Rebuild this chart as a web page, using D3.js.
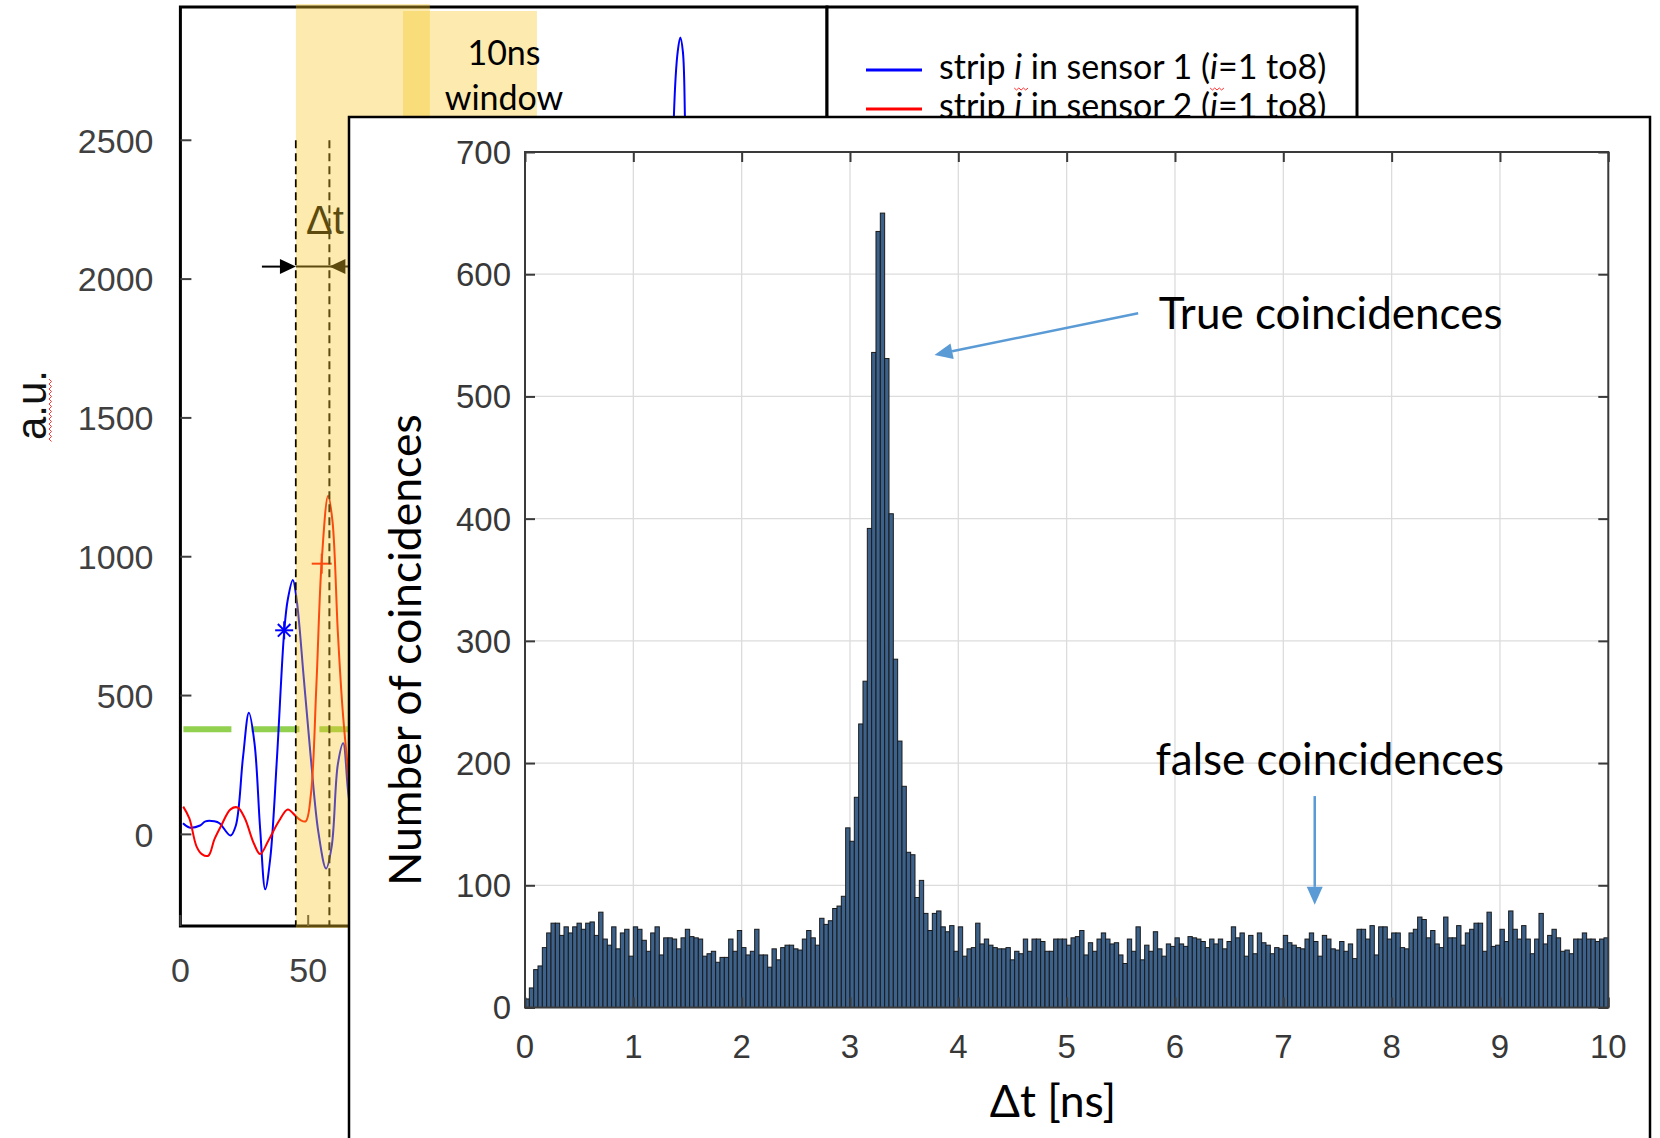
<!DOCTYPE html>
<html><head><meta charset="utf-8">
<script src="https://cdn.jsdelivr.net/npm/d3@7"></script>
<style>
html,body{margin:0;padding:0;background:#fff;}
svg{display:block;}
</style></head>
<body>
<svg id="fig" width="1660" height="1138"></svg>
<script>
// ---- Histogram of coincidence time differences (0.04 ns bins, 0..10 ns) ----
const binWidthNs = 0.04;
const countsA = [7,16,31,34,49,61,69,69,59,66,61,66,69,64,69,70,59,78,56,51,66,48,61,64,42,66,64,55,46,61,66,43,57,57,56,48,57,64,58,57,56,42,44,46,37,41,41,56,46,63,49,43,46,64,43,43,33,48,39,49,51,51,48];
const countsB = [47,56,63,57,51,73,68,71,81,83,91,147,136,172,232,267,392,536,635,650,531,404,285,218,181,127,125,90,104,77,63,77,79];
const countsC = [66,62,67,46,66,42,48,49,69,52,56,51,49,48,48,49,39,46,44,56,46,56,56,54,46,46,56,56,56,51,57,58,63,43,53,46,56,61,56,52,53,43,36,56,46,66,39,51,46,62,48,42,52,50,57,52,50,58,57,56,54,49,56,52];
const countsD = [56,48,54,66,57,61,42,59,44,61,53,51,44,49,48,59,53,51,49,48,56,61,54,42,59,56,48,47,54,46,52,40,64,64,56,67,43,66,66,56,61,61,49,48,61,64,74];
const countsE = [72,57,63,52,49,74,57,57,67,51,61,64,69,69,46,78,50,51,64,54,79,64,56,67,56,44,56,77,52,59,64,57,46,47,44,56,56,61,56,56,54,56,57];
const counts = countsA.concat(countsB, countsC, countsD, countsE);
const histXTicks = [0,1,2,3,4,5,6,7,8,9,10];
const histYTicks = [0,100,200,300,400,500,600,700];

// ---- Waveform panel behind the histogram (time in samples, amplitude a.u.) ----
const sensor1T = [1,3.5,7.7,9.8,13.3,15.3,19.6,21.7,24.5,26.8,29,31.2,33.2,35.2,37.8,40.6,42,44,45.5,48.3,51,54,57,59.2,61.6,63.7,65.7,68,72,120,185,192,193.1,194.6,195.6,196.6,197.4,198.5,205];
const sensor1V = [40,25,32,47,47,40,-4,32,278,438,328,20,-198,-83,278,729,845,916,845,560,278,7,-123,-43,252,328,148,20,-40,30,60,1500,2589,2820,2870,2820,2589,1500,60];
const sensor2T = [1.1,3.5,6.3,8.4,10.9,13.3,16,19.6,22.4,25.2,28.7,31.2,34.3,38.5,42,45.2,46.9,49,51.1,53.2,55.3,57.8,59.5,61.6,63.4,65.1,67,70,110];
const sensor2V = [100,58,-43,-71,-77,-18,32,90,97,58,-32,-71,-25,47,90,65,52,47,148,535,986,1220,1129,729,458,278,100,0,20];
const sensor1Mark = [40.6, 735];
const sensor2Mark = [55.3, 975];
const thresholdLevel = 379;
const waveXTicks = [0, 50];
const waveYTicks = [0, 500, 1000, 1500, 2000, 2500];
const crossingT = [45.2, 58.3];
const bandA = [45.2, 97.6];
const bandB = [87.1, 139.5];
const windowLabel = ["10ns", "window"];

const svg = d3.select("#fig");
svg.append("rect").attr("width", 1660).attr("height", 1138).attr("fill", "#fff");

const helv = "'Liberation Sans', Arial, sans-serif";
const cal = "Lato, 'Open Sans', sans-serif";

// ================= waveform panel =================
const xW = d3.scaleLinear().domain([0, 253]).range([180.4, 827]);
const yW = d3.scaleLinear().domain([-330, 2980]).range([926, 7]);
const wave = svg.append("g");

svg.append("defs").append("clipPath").attr("id", "waveClip")
  .append("rect").attr("x", xW(0)).attr("y", yW(2980)).attr("width", xW(253) - xW(0)).attr("height", yW(-330) - yW(2980));

// frame and legend box
wave.append("rect").attr("x", xW(0)).attr("y", yW(2980)).attr("width", xW(253) - xW(0)).attr("height", yW(-330) - yW(2980))
  .attr("fill", "none").attr("stroke", "#000").attr("stroke-width", 3);
wave.append("rect").attr("x", xW(253)).attr("y", yW(2980)).attr("width", 530).attr("height", 200)
  .attr("fill", "#fff").attr("stroke", "#000").attr("stroke-width", 3);

// ticks and labels
waveYTicks.forEach(v => {
  wave.append("line").attr("x1", xW(0)).attr("x2", xW(0) + 11).attr("y1", yW(v)).attr("y2", yW(v))
    .attr("stroke", "#404040").attr("stroke-width", 2);
  wave.append("text").attr("x", 153.5).attr("y", yW(v)).attr("dy", "0.36em").attr("text-anchor", "end")
    .attr("font-family", helv).attr("font-size", 34).attr("fill", "#404040").text(v);
});
waveXTicks.forEach(t => {
  wave.append("line").attr("x1", xW(t)).attr("x2", xW(t)).attr("y1", yW(-330)).attr("y2", yW(-330) - 11)
    .attr("stroke", "#404040").attr("stroke-width", 2);
  wave.append("text").attr("x", xW(t)).attr("y", 982).attr("text-anchor", "middle")
    .attr("font-family", helv).attr("font-size", 34).attr("fill", "#404040").text(t);
});
// y axis title with spell-check squiggle
wave.append("text").attr("transform", "translate(46,405) rotate(-90)").attr("text-anchor", "middle")
  .attr("font-family", helv).attr("font-size", 42).attr("fill", "#111").text("a.u.");
(function () {
  let d = "M49,379";
  for (let y = 379, k = 0; y < 441; y += 2.5, k++) d += " L" + (k % 2 ? 49 : 51.5) + "," + (y + 2.5);
  wave.append("path").attr("d", d).attr("fill", "none").attr("stroke", "#ff3030").attr("stroke-width", 1);
})();

const plotW = wave.append("g").attr("clip-path", "url(#waveClip)");
const lineW = d3.line().x(d => xW(d[0])).y(d => yW(d[1])).curve(d3.curveCatmullRom.alpha(0.5));

// threshold
plotW.append("line").attr("x1", xW(0) + 3).attr("x2", xW(253)).attr("y1", yW(thresholdLevel)).attr("y2", yW(thresholdLevel))
  .attr("stroke", "#92D050").attr("stroke-width", 6).attr("stroke-dasharray", "48 20");
// signals
plotW.append("path").attr("d", lineW(d3.zip(sensor1T, sensor1V))).attr("fill", "none").attr("stroke", "#0000ff").attr("stroke-width", 2);
plotW.append("path").attr("d", lineW(d3.zip(sensor2T, sensor2V))).attr("fill", "none").attr("stroke", "#ff0000").attr("stroke-width", 2);
// markers at threshold-derived timing points
(function () {
  const cx = xW(sensor1Mark[0]), cy = yW(sensor1Mark[1]), r = 9;
  const g = plotW.append("g").attr("stroke", "#0000ff").attr("stroke-width", 2);
  g.append("line").attr("x1", cx - r).attr("x2", cx + r).attr("y1", cy).attr("y2", cy);
  g.append("line").attr("x1", cx).attr("x2", cx).attr("y1", cy - r).attr("y2", cy + r);
  g.append("line").attr("x1", cx - r * 0.7).attr("x2", cx + r * 0.7).attr("y1", cy - r * 0.7).attr("y2", cy + r * 0.7);
  g.append("line").attr("x1", cx - r * 0.7).attr("x2", cx + r * 0.7).attr("y1", cy + r * 0.7).attr("y2", cy - r * 0.7);
  const px = xW(sensor2Mark[0]), py = yW(sensor2Mark[1]), s = 10;
  const h = plotW.append("g").attr("stroke", "#ff0000").attr("stroke-width", 2);
  h.append("line").attr("x1", px - s).attr("x2", px + s).attr("y1", py).attr("y2", py);
  h.append("line").attr("x1", px).attr("x2", px).attr("y1", py - s).attr("y2", py + s);
})();
// crossing times and delta-t arrow
crossingT.forEach(t => {
  plotW.append("line").attr("x1", xW(t)).attr("x2", xW(t)).attr("y1", yW(2500)).attr("y2", yW(-330))
    .attr("stroke", "#000").attr("stroke-width", 2).attr("stroke-dasharray", "8 5");
});
(function () {
  const y = yW(2045);
  const a = xW(crossingT[0]), b = xW(crossingT[1]);
  wave.append("line").attr("x1", a - 34).attr("x2", a - 10).attr("y1", y).attr("y2", y).attr("stroke", "#000").attr("stroke-width", 2);
  wave.append("line").attr("x1", a).attr("x2", b + 30).attr("y1", y).attr("y2", y).attr("stroke", "#000").attr("stroke-width", 2);
  wave.append("path").attr("d", `M${a},${y} L${a - 16},${y - 7.5} L${a - 16},${y + 7.5} Z`).attr("fill", "#000");
  wave.append("path").attr("d", `M${b},${y} L${b + 16},${y - 7.5} L${b + 16},${y + 7.5} Z`).attr("fill", "#000");
  wave.append("text").attr("x", 306).attr("y", 234).attr("font-family", helv).attr("font-size", 40).attr("fill", "#000").text("Δt");
})();

// coincidence window highlight
wave.append("rect").attr("x", xW(bandA[0])).attr("width", xW(bandA[1]) - xW(bandA[0])).attr("y", 4).attr("height", 924)
  .attr("fill", "#F7C625").attr("fill-opacity", 0.373);
wave.append("rect").attr("x", xW(bandB[0])).attr("width", xW(bandB[1]) - xW(bandB[0])).attr("y", 11).attr("height", 150)
  .attr("fill", "#F7C625").attr("fill-opacity", 0.373);
windowLabel.forEach((s, i) => {
  wave.append("text").attr("x", 504).attr("y", 65 + i * 45).attr("text-anchor", "middle")
    .attr("font-family", cal).attr("font-size", 34).attr("fill", "#000").text(s);
});

// legend
(function () {
  const rows = [{c: "#0000ff", n: "1", y: 70, by: 79}, {c: "#ff0000", n: "2", y: 109, by: 118}];
  rows.forEach(r => {
    wave.append("line").attr("x1", 866).attr("x2", 922).attr("y1", r.y).attr("y2", r.y).attr("stroke", r.c).attr("stroke-width", 3);
    const t = wave.append("text").attr("x", 939).attr("y", r.by).attr("font-family", cal).attr("font-size", 34).attr("fill", "#000");
    t.append("tspan").text("strip ");
    t.append("tspan").attr("font-style", "italic").text("i");
    t.append("tspan").text(" in sensor " + r.n + " (");
    t.append("tspan").attr("font-style", "italic").text("i");
    t.append("tspan").text("=1 to8)");
    const node = t.node();
    [6, 21].forEach(ci => {
      const x0 = node.getStartPositionOfChar(ci).x;
      let d = `M${x0},${r.by + 9}`;
      for (let k = 1; k <= 6; k++) d += ` L${x0 + k * 2.3},${r.by + 9 + (k % 2 ? 2 : 0)}`;
      wave.append("path").attr("d", d).attr("fill", "none").attr("stroke", "#ff3030").attr("stroke-width", 1);
    });
  });
})();

// ================= histogram panel =================
const hist = svg.append("g");
hist.append("rect").attr("x", 349).attr("y", 117).attr("width", 1301).attr("height", 1040)
  .attr("fill", "#fff").attr("stroke", "#000").attr("stroke-width", 2.5);

const xH = d3.scaleLinear().domain([0, 10]).range([525, 1608.3]);
const yH = d3.scaleLinear().domain([0, 700]).range([1007.5, 152]);

// grid
hist.append("g").selectAll("line.v").data(histXTicks).join("line")
  .attr("x1", d => xH(d)).attr("x2", d => xH(d)).attr("y1", yH(0)).attr("y2", yH(700))
  .attr("stroke", "#dcdcdc").attr("stroke-width", 1.3);
hist.append("g").selectAll("line.h").data(histYTicks).join("line")
  .attr("x1", xH(0)).attr("x2", xH(10)).attr("y1", d => yH(d)).attr("y2", d => yH(d))
  .attr("stroke", "#dcdcdc").attr("stroke-width", 1.3);

// bars
hist.append("g").selectAll("rect").data(counts).join("rect")
  .attr("x", (d, i) => xH(i * binWidthNs))
  .attr("width", (d, i) => xH((i + 1) * binWidthNs) - xH(i * binWidthNs))
  .attr("y", d => yH(d))
  .attr("height", d => yH(0) - yH(d))
  .attr("fill", "#3c628c").attr("stroke", "#1a1a1a").attr("stroke-width", 1);

// axes box with inward ticks on all sides
const axColor = "#3a3a3a";
hist.append("rect").attr("x", xH(0)).attr("y", yH(700)).attr("width", xH(10) - xH(0)).attr("height", yH(0) - yH(700))
  .attr("fill", "none").attr("stroke", axColor).attr("stroke-width", 2);
hist.append("g").call(d3.axisBottom(xH).tickValues(histXTicks).tickSize(-10).tickFormat(""))
  .attr("transform", `translate(0,${yH(0)})`).call(g => { g.select(".domain").remove(); g.selectAll("line").attr("stroke", axColor).attr("stroke-width", 2); });
hist.append("g").call(d3.axisTop(xH).tickValues(histXTicks).tickSize(-10).tickFormat(""))
  .attr("transform", `translate(0,${yH(700)})`).call(g => { g.select(".domain").remove(); g.selectAll("line").attr("stroke", axColor).attr("stroke-width", 2); });
hist.append("g").call(d3.axisLeft(yH).tickValues(histYTicks).tickSize(-10).tickFormat(""))
  .attr("transform", `translate(${xH(0)},0)`).call(g => { g.select(".domain").remove(); g.selectAll("line").attr("stroke", axColor).attr("stroke-width", 2); });
hist.append("g").call(d3.axisRight(yH).tickValues(histYTicks).tickSize(-10).tickFormat(""))
  .attr("transform", `translate(${xH(10)},0)`).call(g => { g.select(".domain").remove(); g.selectAll("line").attr("stroke", axColor).attr("stroke-width", 2); });

// tick labels
hist.append("g").selectAll("text").data(histXTicks).join("text")
  .attr("x", d => xH(d)).attr("y", 1058).attr("text-anchor", "middle")
  .attr("font-family", helv).attr("font-size", 33).attr("fill", "#383838").text(d => d);
hist.append("g").selectAll("text").data(histYTicks).join("text")
  .attr("x", 511).attr("y", d => yH(d)).attr("dy", "0.36em").attr("text-anchor", "end")
  .attr("font-family", helv).attr("font-size", 33).attr("fill", "#383838").text(d => d);

// titles
hist.append("text").attr("transform", "translate(421,650) rotate(-90)").attr("text-anchor", "middle")
  .attr("font-family", cal).attr("font-size", 44.5).attr("fill", "#000").text("Number of coincidences");
hist.append("text").attr("x", 1053).attr("y", 1117).attr("text-anchor", "middle")
  .attr("font-family", cal).attr("font-size", 44.5).attr("fill", "#000").text("Δt [ns]");

// annotations
const noteColor = "#5B9BD5";
function arrow(x1, y1, x2, y2) {
  const ang = Math.atan2(y2 - y1, x2 - x1), L = 18, W = 8;
  const bx = x2 - L * Math.cos(ang), by = y2 - L * Math.sin(ang);
  hist.append("line").attr("x1", x1).attr("y1", y1).attr("x2", bx).attr("y2", by).attr("stroke", noteColor).attr("stroke-width", 2.5);
  const px = -Math.sin(ang) * W, py = Math.cos(ang) * W;
  hist.append("path").attr("d", `M${x2},${y2} L${bx + px},${by + py} L${bx - px},${by - py} Z`).attr("fill", noteColor);
}
arrow(xH(5.66), yH(568), xH(3.78), yH(534));
arrow(xH(7.29), yH(173), xH(7.29), yH(84));
hist.append("text").attr("x", xH(5.85)).attr("y", 329).attr("font-family", cal).attr("font-size", 44).attr("fill", "#000").text("True coincidences");
hist.append("text").attr("x", xH(5.82)).attr("y", 775).attr("font-family", cal).attr("font-size", 44).attr("fill", "#000").text("false coincidences");
</script>
</body></html>
